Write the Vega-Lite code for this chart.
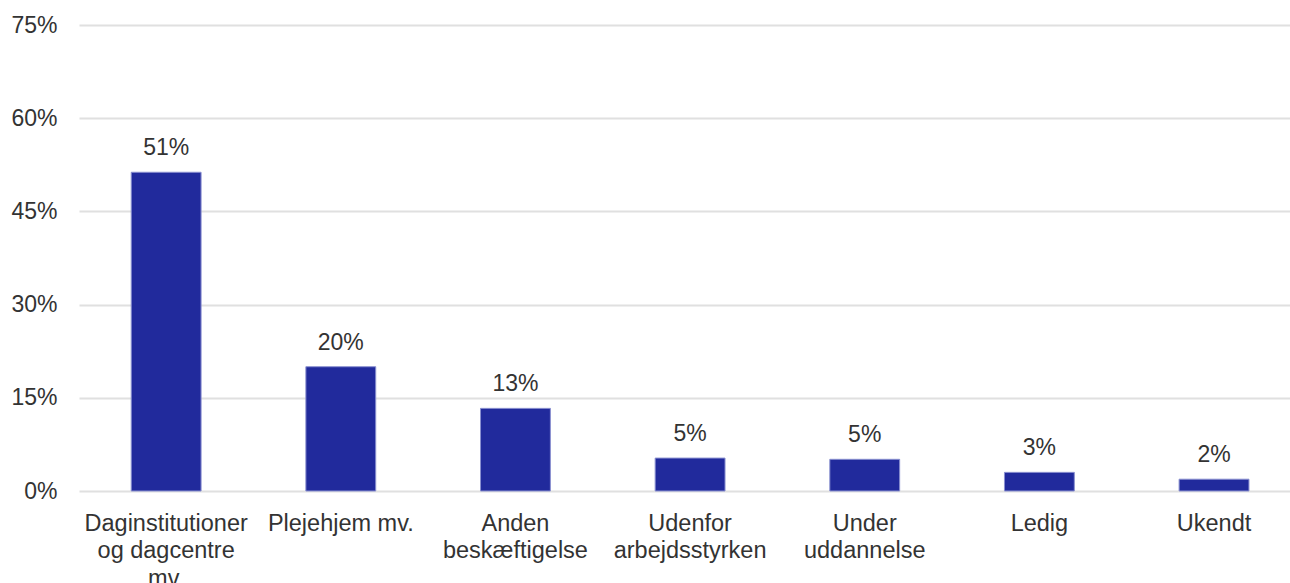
{
  "$schema": "https://vega.github.io/schema/vega-lite/v6.json",
  "autosize": {"type": "none"},
  "padding": {"left": 79, "top": 25, "right": 0, "bottom": 92},
  "width": 1211,
  "height": 466,
  "background": "white",
  "config": {
    "view": {"stroke": null},
    "font": "Liberation Sans",
    "text": {"font": "Liberation Sans"}
  },
  "data": {
    "values": [
      {"kategori": "Daginstitutioner og dagcentre mv.", "andel": 0.513},
      {"kategori": "Plejehjem mv.", "andel": 0.200},
      {"kategori": "Anden beskæftigelse", "andel": 0.133},
      {"kategori": "Udenfor arbejdsstyrken", "andel": 0.053},
      {"kategori": "Under uddannelse", "andel": 0.051},
      {"kategori": "Ledig", "andel": 0.030},
      {"kategori": "Ukendt", "andel": 0.019}
    ]
  },
  "encoding": {
    "x": {
      "field": "kategori",
      "type": "nominal",
      "sort": null,
      "scale": {"paddingInner": 0.6, "paddingOuter": 0.267, "align": 0.56},
      "axis": {
        "title": null,
        "domain": false,
        "ticks": false,
        "tickSize": 0,
        "labelAngle": 0,
        "labelPadding": 20,
        "labelFont": "Liberation Sans",
        "labelFontSize": 23.5,
        "labelColor": "#333333",
        "labelLineHeight": 27.5,
        "labelLimit": 400,
        "labelBaseline": "top",
        "labelExpr": "datum.value == 'Daginstitutioner og dagcentre mv.' ? ['Daginstitutioner', 'og dagcentre', 'mv.'] : datum.value == 'Anden beskæftigelse' ? ['Anden', 'beskæftigelse'] : datum.value == 'Udenfor arbejdsstyrken' ? ['Udenfor', 'arbejdsstyrken'] : datum.value == 'Under uddannelse' ? ['Under', 'uddannelse'] : datum.value"
      }
    },
    "y": {
      "field": "andel",
      "type": "quantitative",
      "scale": {"domain": [0, 0.75], "nice": false, "zero": true},
      "axis": {
        "title": null,
        "domain": false,
        "ticks": false,
        "tickSize": 0,
        "values": [0, 0.15, 0.3, 0.45, 0.6, 0.75],
        "format": ".0%",
        "labelPadding": 22,
        "labelFont": "Liberation Sans",
        "labelFontSize": 23,
        "labelColor": "#333333",
        "grid": true,
        "gridColor": "#e0e0e0",
        "gridWidth": 2
      }
    }
  },
  "layer": [
    {
      "mark": {"type": "bar", "color": "#212a9c", "stroke": "#8a90d0", "strokeWidth": 1}
    },
    {
      "mark": {"type": "text", "baseline": "alphabetic", "dy": -17, "fontSize": 23, "color": "#333333", "font": "Liberation Sans"},
      "encoding": {
        "text": {"field": "andel", "type": "quantitative", "format": ".0%"}
      }
    }
  ]
}
